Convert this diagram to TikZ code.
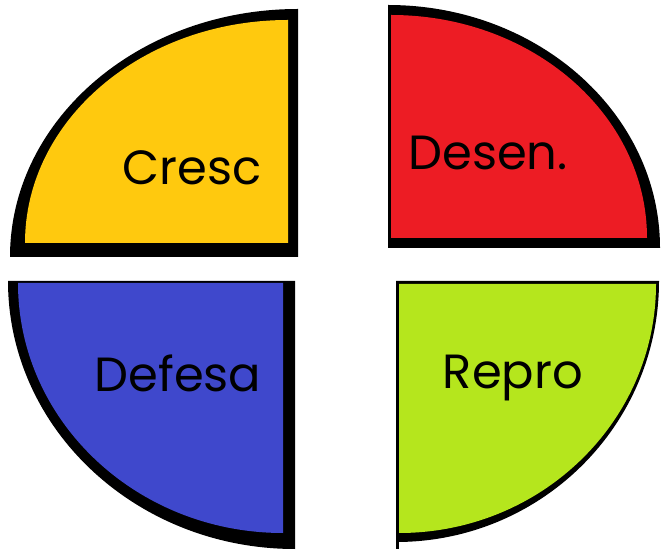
\documentclass[tikz,border=0pt]{standalone}
\usepackage{fontspec}
\setmainfont{Poppins}
\definecolor{cyellow}{HTML}{FFC90E}
\definecolor{cred}{HTML}{ED1C24}
\definecolor{cblue}{HTML}{3F48CC}
\definecolor{cgreen}{HTML}{B5E61D}
\begin{document}
\begin{tikzpicture}[x=1pt,y=1pt,
  lbl/.style={inner sep=0pt,anchor=base,font=\fontsize{48}{52}\selectfont,text=black}]
\useasboundingbox (0,0) rectangle (661,549);
% Yellow (upper left)
\fill[black] (298,292) -- (10,292) arc[start angle=180,end angle=90,x radius=288,y radius=248] -- cycle;
\fill[cyellow] (288,306) -- (25,306) arc[start angle=180,end angle=90,x radius=263,y radius=223] -- cycle;
% Red (upper right)
\fill[black] (388,301) -- (388,544) arc[start angle=90,end angle=0,x radius=272,y radius=243] -- cycle;
\fill[cred] (391,311) -- (391,534) arc[start angle=90,end angle=0,x radius=256,y radius=223] -- cycle;
% Blue (lower left)
\fill[black] (295,268) -- (8,268) arc[start angle=180,end angle=270,x radius=287,y radius=268] -- cycle;
\fill[cblue] (283,266) -- (18,266) arc[start angle=180,end angle=270,x radius=265,y radius=250] -- cycle;
% Green (lower right)
\fill[black] (396,268) -- (659,268) arc[start angle=0,end angle=-90,x radius=263,y radius=261] -- cycle;
\fill[black] (396,0) rectangle (399,268);
\fill[cgreen] (399,265) -- (656,265) arc[start angle=0,end angle=-90,x radius=257,y radius=249] -- cycle;
% Labels
\node[lbl] (cresc) at (192,364) {Cresc};
\node[lbl] (desen) at (488,379) {Desen.};
\node[lbl] (defesa) at (178,157) {Defesa};
\node[lbl] (repro) at (513,160) {Repro};
\end{tikzpicture}
\end{document}
